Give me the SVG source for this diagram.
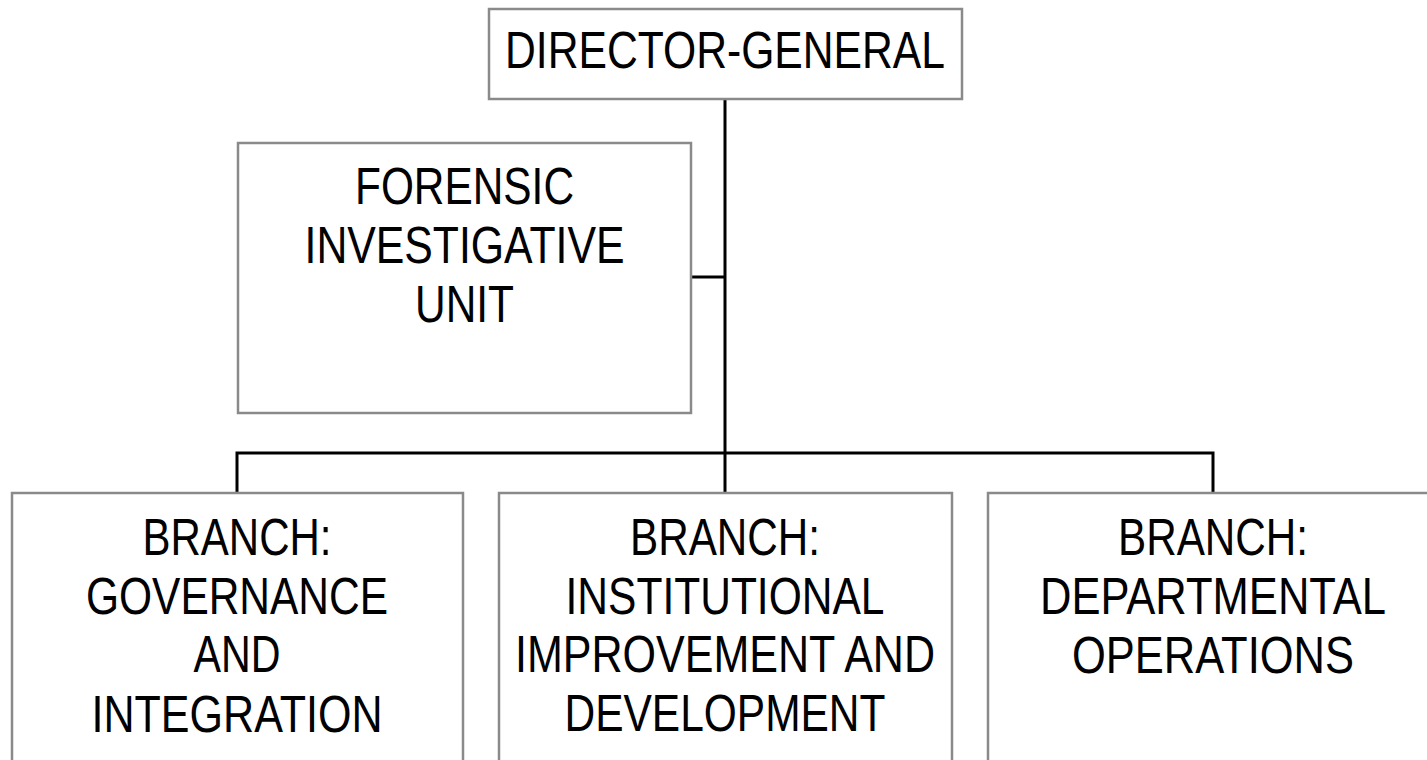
<svg xmlns="http://www.w3.org/2000/svg" width="1427" height="760" viewBox="0 0 1427 760">
<style>
.box{fill:#fff;stroke:#8a8a8a;stroke-width:2.5}
.lbl{font-family:"Liberation Sans",Arial,sans-serif;font-size:51px;fill:#000;text-anchor:middle}
.conn{fill:none;stroke:#000;stroke-width:3}
</style>
<rect width="1427" height="760" fill="#fff"/>
<g id="connectors">
<path class="conn" d="M725 99V453M691 277H725M237 493V453H1213V493M725 453V493"/>
</g>
<g id="director-general">
<rect class="box" x="489" y="9" width="473" height="90"/>
<text class="lbl" x="725" y="68" textLength="440" lengthAdjust="spacingAndGlyphs">DIRECTOR-GENERAL</text>
</g>
<g id="forensic">
<rect class="box" x="238" y="143" width="453" height="270"/>
<text class="lbl" x="464.5" y="204" textLength="219" lengthAdjust="spacingAndGlyphs">FORENSIC</text>
<text class="lbl" x="464.5" y="263" textLength="320" lengthAdjust="spacingAndGlyphs">INVESTIGATIVE</text>
<text class="lbl" x="464.5" y="322" textLength="99" lengthAdjust="spacingAndGlyphs">UNIT</text>
</g>
<g id="branch-governance">
<rect class="box" x="12" y="493" width="451" height="290"/>
<text class="lbl" x="237" y="555" textLength="189" lengthAdjust="spacingAndGlyphs">BRANCH:</text>
<text class="lbl" x="237" y="614" textLength="302" lengthAdjust="spacingAndGlyphs">GOVERNANCE</text>
<text class="lbl" x="237" y="672" textLength="87" lengthAdjust="spacingAndGlyphs">AND</text>
<text class="lbl" x="237" y="732" textLength="291" lengthAdjust="spacingAndGlyphs">INTEGRATION</text>
</g>
<g id="branch-institutional">
<rect class="box" x="499" y="493" width="453" height="290"/>
<text class="lbl" x="725" y="555" textLength="190" lengthAdjust="spacingAndGlyphs">BRANCH:</text>
<text class="lbl" x="725" y="614" textLength="319" lengthAdjust="spacingAndGlyphs">INSTITUTIONAL</text>
<text class="lbl" x="725" y="672" textLength="420" lengthAdjust="spacingAndGlyphs">IMPROVEMENT AND</text>
<text class="lbl" x="725" y="731" textLength="321" lengthAdjust="spacingAndGlyphs">DEVELOPMENT</text>
</g>
<g id="branch-departmental">
<rect class="box" x="988" y="493" width="451" height="290"/>
<text class="lbl" x="1213" y="555" textLength="190" lengthAdjust="spacingAndGlyphs">BRANCH:</text>
<text class="lbl" x="1213" y="614" textLength="346" lengthAdjust="spacingAndGlyphs">DEPARTMENTAL</text>
<text class="lbl" x="1213" y="673" textLength="282" lengthAdjust="spacingAndGlyphs">OPERATIONS</text>
</g>
</svg>
